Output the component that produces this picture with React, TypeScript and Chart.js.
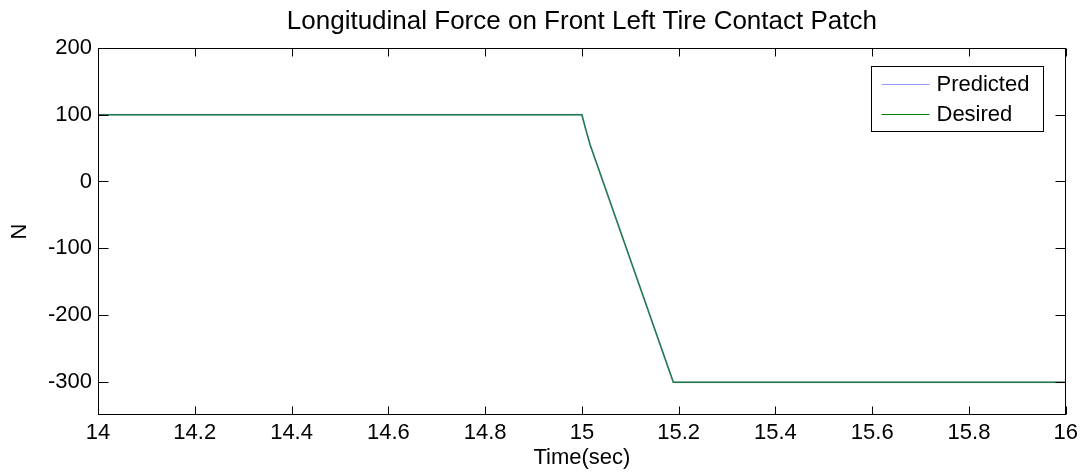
import React, { useEffect, useRef } from 'react';
import { Chart, registerables } from 'chart.js';

Chart.register(...registerables);

// ---- data ----
const timeSec = [14, 15.0, 15.008, 15.017, 15.189, 16];
const predicted = [100, 100, 78, 55, -301, -301];
const desired = [100, 100, 78, 55, -301, -301];
const xTicks = [14, 14.2, 14.4, 14.6, 14.8, 15, 15.2, 15.4, 15.6, 15.8, 16];
const yTicks = [-300, -200, -100, 0, 100, 200];
const seriesLabels = ['Predicted', 'Desired'];
const titleText = 'Longitudinal Force on Front Left Tire Contact Patch';
const xTitle = 'Time(sec)';
const yTitle = 'N';

// ---- styles ----
const FONT = '"Liberation Sans", Arial, Helvetica, sans-serif';
const lineColors = ['rgba(110,110,255,0.28)', 'rgb(0,128,0)'];
const legendColors = ['#9a9aff', '#008000'];

const matlabPlugin = {
  id: 'matlabBox',
  afterDatasetsDraw(chart: any) {
    const { ctx, chartArea: a, scales } = chart;
    ctx.save();
    ctx.strokeStyle = '#000';
    ctx.lineWidth = 1;
    const L = Math.round(a.left) + 0.5;
    const R = Math.round(a.right) - 0.5;
    const T = Math.round(a.top) + 0.5;
    const B = Math.round(a.bottom) - 0.5;
    ctx.strokeRect(L, T, R - L, B - T);
    ctx.beginPath();
    scales.x.ticks.forEach((t: any) => {
      const px = Math.round(scales.x.getPixelForValue(t.value)) + 0.5;
      ctx.moveTo(px, B);
      ctx.lineTo(px, B - 8);
      ctx.moveTo(px, T);
      ctx.lineTo(px, T + 8);
    });
    scales.y.ticks.forEach((t: any) => {
      const py = Math.round(scales.y.getPixelForValue(t.value)) + 0.5;
      ctx.moveTo(L, py);
      ctx.lineTo(L + 10, py);
      ctx.moveTo(R, py);
      ctx.lineTo(R - 10, py);
    });
    ctx.stroke();

    // legend box
    const bw = 172;
    const bh = 65;
    const bx = Math.round(a.right) - 23 - bw + 0.5;
    const by = Math.round(a.top) + 18 + 0.5;
    ctx.fillStyle = '#fff';
    ctx.fillRect(bx, by, bw, bh);
    ctx.strokeStyle = '#000';
    ctx.strokeRect(bx, by, bw, bh);
    const rows = [by + 17, by + 47];
    ctx.font = `22px ${FONT}`;
    ctx.textBaseline = 'middle';
    ctx.textAlign = 'left';
    chart.data.datasets.forEach((ds: any, i: number) => {
      const y = Math.round(rows[i]) + 0.5;
      ctx.beginPath();
      ctx.strokeStyle = legendColors[i];
      ctx.lineWidth = 1;
      ctx.moveTo(bx + 10, y);
      ctx.lineTo(bx + 58, y);
      ctx.stroke();
      ctx.fillStyle = '#000';
      ctx.fillText(ds.label, bx + 65, rows[i] + 1);
    });
    ctx.restore();
  },
};

export default function App() {
  const ref = useRef<HTMLCanvasElement | null>(null);

  useEffect(() => {
    if (!ref.current) return;
    const mk = (vals: number[]) => timeSec.map((t, i) => ({ x: t, y: vals[i] }));
    const chart = new Chart(ref.current, {
      type: 'line',
      data: {
        datasets: [
          {
            label: seriesLabels[0],
            data: mk(predicted),
            borderColor: lineColors[0],
            borderWidth: 2,
            pointRadius: 0,
            tension: 0,
          },
          {
            label: seriesLabels[1],
            data: mk(desired),
            borderColor: lineColors[1],
            borderWidth: 1.5,
            pointRadius: 0,
            tension: 0,
          },
        ],
      },
      options: {
        responsive: false,
        animation: false,
        devicePixelRatio: 1,
        layout: { padding: { left: 0, right: 17, top: 0, bottom: 0 } },
        plugins: {
          legend: { display: false },
          tooltip: { enabled: false },
          title: {
            display: true,
            text: titleText,
            color: '#000',
            fullSize: false,
            font: { family: FONT, size: 26, weight: 'normal' },
            padding: { top: 6, bottom: 10.8 },
          },
        },
        scales: {
          x: {
            type: 'linear',
            min: 14,
            max: 16,
            afterBuildTicks: (s: any) => {
              s.ticks = xTicks.map((v) => ({ value: v }));
            },
            afterFit: (s: any) => {
              s.height = 61;
            },
            grid: { display: false, drawTicks: false },
            border: { display: false },
            ticks: {
              color: '#000',
              font: { family: FONT, size: 22 },
              padding: 5,
              maxRotation: 0,
              autoSkip: false,
              callback: (v: any) => String(+Number(v).toFixed(1)),
            },
            title: {
              display: true,
              text: xTitle,
              color: '#000',
              font: { family: FONT, size: 22 },
              padding: { top: 0, bottom: 5 },
            },
          },
          y: {
            type: 'linear',
            min: -350,
            max: 200,
            afterBuildTicks: (s: any) => {
              s.ticks = yTicks.map((v) => ({ value: v }));
            },
            afterFit: (s: any) => {
              s.width = 98;
            },
            grid: { display: false, drawTicks: false },
            border: { display: false },
            ticks: {
              color: '#000',
              font: { family: FONT, size: 22 },
              padding: 6,
              callback: (v: any) => String(v),
            },
            title: {
              display: true,
              text: yTitle,
              color: '#000',
              font: { family: FONT, size: 22 },
              padding: { top: 7, bottom: 0 },
            },
          },
        },
      },
      plugins: [matlabPlugin],
    });
    return () => chart.destroy();
  }, []);

  return (
    <div style={{ position: 'absolute', left: 0, top: 0, width: 1083, height: 476, background: '#fff' }}>
      <canvas ref={ref} width={1083} height={476} />
    </div>
  );
}
